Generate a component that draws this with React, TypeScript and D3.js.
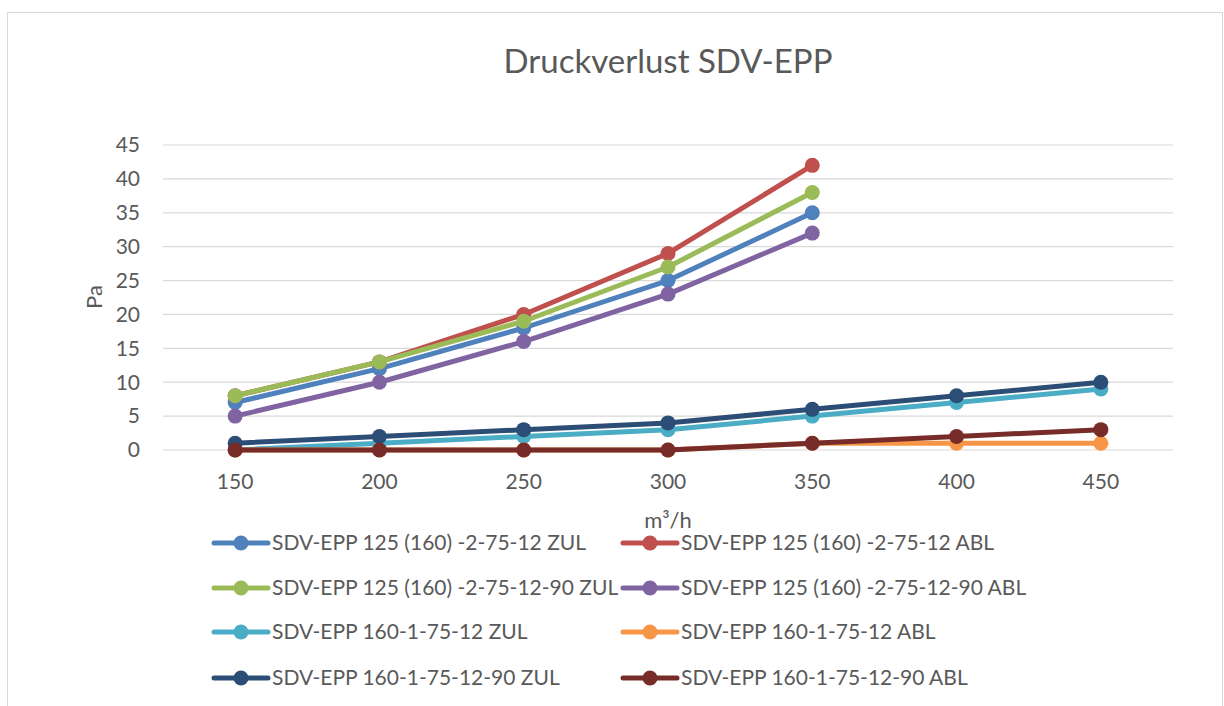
import React, { useEffect } from 'react'
import * as d3 from 'd3'

// m³/h categories
const flows = ['150', '200', '250', '300', '350', '400', '450']
const yTicks = [0, 5, 10, 15, 20, 25, 30, 35, 40, 45]

const zul125 = [7, 12, 18, 25, 35]
const abl125 = [8, 13, 20, 29, 42]
const zul125_90 = [8, 13, 19, 27, 38]
const abl125_90 = [5, 10, 16, 23, 32]
const zul160 = [0, 1, 2, 3, 5, 7, 9]
const abl160 = [0, 0, 0, 0, 1, 1, 1]
const zul160_90 = [1, 2, 3, 4, 6, 8, 10]
const abl160_90 = [0, 0, 0, 0, 1, 2, 3]

const seriesNames = [
  'SDV-EPP 125 (160) -2-75-12 ZUL',
  'SDV-EPP 125 (160) -2-75-12 ABL',
  'SDV-EPP 125 (160) -2-75-12-90 ZUL',
  'SDV-EPP 125 (160) -2-75-12-90 ABL',
  'SDV-EPP 160-1-75-12 ZUL',
  'SDV-EPP 160-1-75-12 ABL',
  'SDV-EPP 160-1-75-12-90 ZUL',
  'SDV-EPP 160-1-75-12-90 ABL',
]
const seriesValues = [zul125, abl125, zul125_90, abl125_90, zul160, abl160, zul160_90, abl160_90]
const colors = ['#4f81bd', '#c0504d', '#9bbb59', '#8064a2', '#4bacc6', '#f79646', '#2c4d75', '#772c2a']

const W = 1224
const H = 706
const font = 'Lato, "Open Sans", sans-serif'
const textColor = '#595959'

export default function App() {
  useEffect(() => {
    document.body.style.margin = '0'
  }, [])

  const x = d3.scaleBand().domain(flows).range([163, 1173])
  const y = d3.scaleLinear().domain([0, 45]).range([450, 145])
  const cx = (i: number) => (x(flows[i]) as number) + x.bandwidth() / 2

  const line = d3
    .line<number>()
    .x((_, i) => cx(i))
    .y((d) => y(d))

  const legendCols = [214, 623]
  const legendRows = [543, 588, 632, 678]

  return (
    <svg width={W} height={H} style={{ display: 'block', fontFamily: font }}>
      <rect x={0} y={0} width={W} height={H} fill="#fff" />
      <rect x={7.5} y={12.5} width={1215} height={720} fill="#fff" stroke="#d9d9d9" strokeWidth={1} />
      <text x={668} y={73} textAnchor="middle" fontSize={33} fill={textColor}>
        Druckverlust SDV-EPP
      </text>

      {yTicks.map((t) => (
        <g key={t}>
          <line x1={163} x2={1173} y1={y(t)} y2={y(t)} stroke="#d9d9d9" strokeWidth={1.2} />
          <text x={140} y={y(t)} dy="0.35em" textAnchor="end" fontSize={21} fill={textColor}>
            {t}
          </text>
        </g>
      ))}

      {flows.map((f, i) => (
        <text key={f} x={cx(i)} y={482} dy="0.35em" textAnchor="middle" fontSize={21} fill={textColor}>
          {f}
        </text>
      ))}

      <text
        transform={`translate(94,297) rotate(-90)`}
        textAnchor="middle"
        dy="0.35em"
        fontSize={22}
        fill={textColor}
      >
        Pa
      </text>
      <text x={668} y={520} textAnchor="middle" dy="0.35em" fontSize={22} fill={textColor}>
        m³/h
      </text>

      {seriesValues.map((vals, s) => (
        <g key={seriesNames[s]}>
          <path d={line(vals) as string} fill="none" stroke={colors[s]} strokeWidth={5} strokeLinejoin="round" />
          {vals.map((v, i) => (
            <circle key={i} cx={cx(i)} cy={y(v)} r={7.5} fill={colors[s]} />
          ))}
        </g>
      ))}

      {seriesNames.map((name, s) => {
        const lx = legendCols[s % 2]
        const ly = legendRows[Math.floor(s / 2)]
        return (
          <g key={name}>
            <line x1={lx} x2={lx + 54} y1={ly} y2={ly} stroke={colors[s]} strokeWidth={5} strokeLinecap="round" />
            <circle cx={lx + 27} cy={ly} r={7.5} fill={colors[s]} />
            <text x={lx + 58} y={ly} dy="0.35em" fontSize={21} fill={textColor}>
              {name}
            </text>
          </g>
        )
      })}
    </svg>
  )
}
